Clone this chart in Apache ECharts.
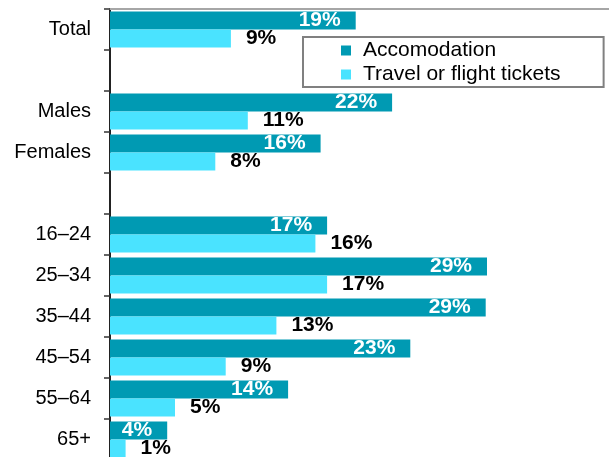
<!DOCTYPE html>
<html>
<head>
<meta charset="utf-8">
<script src="https://cdn.jsdelivr.net/npm/echarts@6/dist/echarts.min.js"></script>
<style>
  html, body { margin: 0; padding: 0; background: #fff; overflow: hidden; }
  /* the plot runs past the right and bottom edges, like the cropped original */
  #chart { width: 630px; height: 461px; }
</style>
</head>
<body>
<div id="chart"></div>
<script>
// categories top to bottom, blanks are the spacer rows
const categories = ['Total', '', 'Males', 'Females', ' ', '16–24', '25–34', '35–44', '45–54', '55–64', '65+']
// (labels show the rounded value)
const accomodation = [18.9, null, 21.7, 16.2, null, 16.7, 29.0, 28.9, 23.1, 13.7, 4.4]
const travelTickets = [9.3, null, 10.6, 8.1, null, 15.8, 16.7, 12.8, 8.9, 5.0, 1.2]

const font = 'Liberation Sans, Arial, sans-serif'

const my_echart = echarts.init(document.getElementById('chart'), null, {renderer: 'canvas'})

my_echart.setOption({
  animation: false,
  grid: {
    left: 110,
    right: 0,
    top: 9,
    bottom: 1,
    containLabel: false
  },
  legend: {
    orient: 'vertical',
    left: 303,
    top: 37,
    padding: [3, 43, 2, 38],
    itemWidth: 10,
    itemHeight: 10,
    itemGap: 3,
    icon: 'rect',
    borderColor: '#808080',
    borderWidth: 2,
    backgroundColor: '#fff',
    textStyle: {
      fontFamily: font,
      fontSize: 21,
      color: '#000',
      padding: [0, 0, 0, 7]
    },
    data: ['Accomodation', 'Travel or flight tickets']
  },
  xAxis: {
    type: 'value',
    position: 'top',
    min: 0,
    max: 40,
    axisLine: {show: true, lineStyle: {color: '#a6a6a6', width: 2}},
    axisTick: {show: false},
    axisLabel: {show: false},
    splitLine: {show: false}
  },
  yAxis: {
    type: 'category',
    inverse: true,
    data: categories,
    axisLine: {show: true, lineStyle: {color: '#222', width: 2}},
    axisTick: {show: true, length: 6, lineStyle: {color: '#333', width: 1.5}},
    axisLabel: {
      fontFamily: font,
      fontSize: 20,
      color: '#000',
      margin: 19
    }
  },
  series: [
    {
      name: 'Accomodation',
      type: 'bar',
      data: accomodation,
      barWidth: 18,
      barGap: '0%',
      itemStyle: {color: '#009ab3'},
      label: {
        show: true,
        position: 'insideRight',
        distance: 15,
        color: '#fff',
        fontFamily: font,
        fontWeight: 'bold',
        fontSize: 21,
        formatter: function (p) { return Math.round(p.value) + '%' }
      }
    },
    {
      name: 'Travel or flight tickets',
      type: 'bar',
      data: travelTickets,
      barWidth: 18,
      barGap: '0%',
      itemStyle: {color: '#4ae3ff'},
      label: {
        show: true,
        position: 'right',
        distance: 15,
        color: '#000',
        fontFamily: font,
        fontWeight: 'bold',
        fontSize: 21,
        formatter: function (p) { return Math.round(p.value) + '%' }
      }
    }
  ]
})
</script>
</body>
</html>
